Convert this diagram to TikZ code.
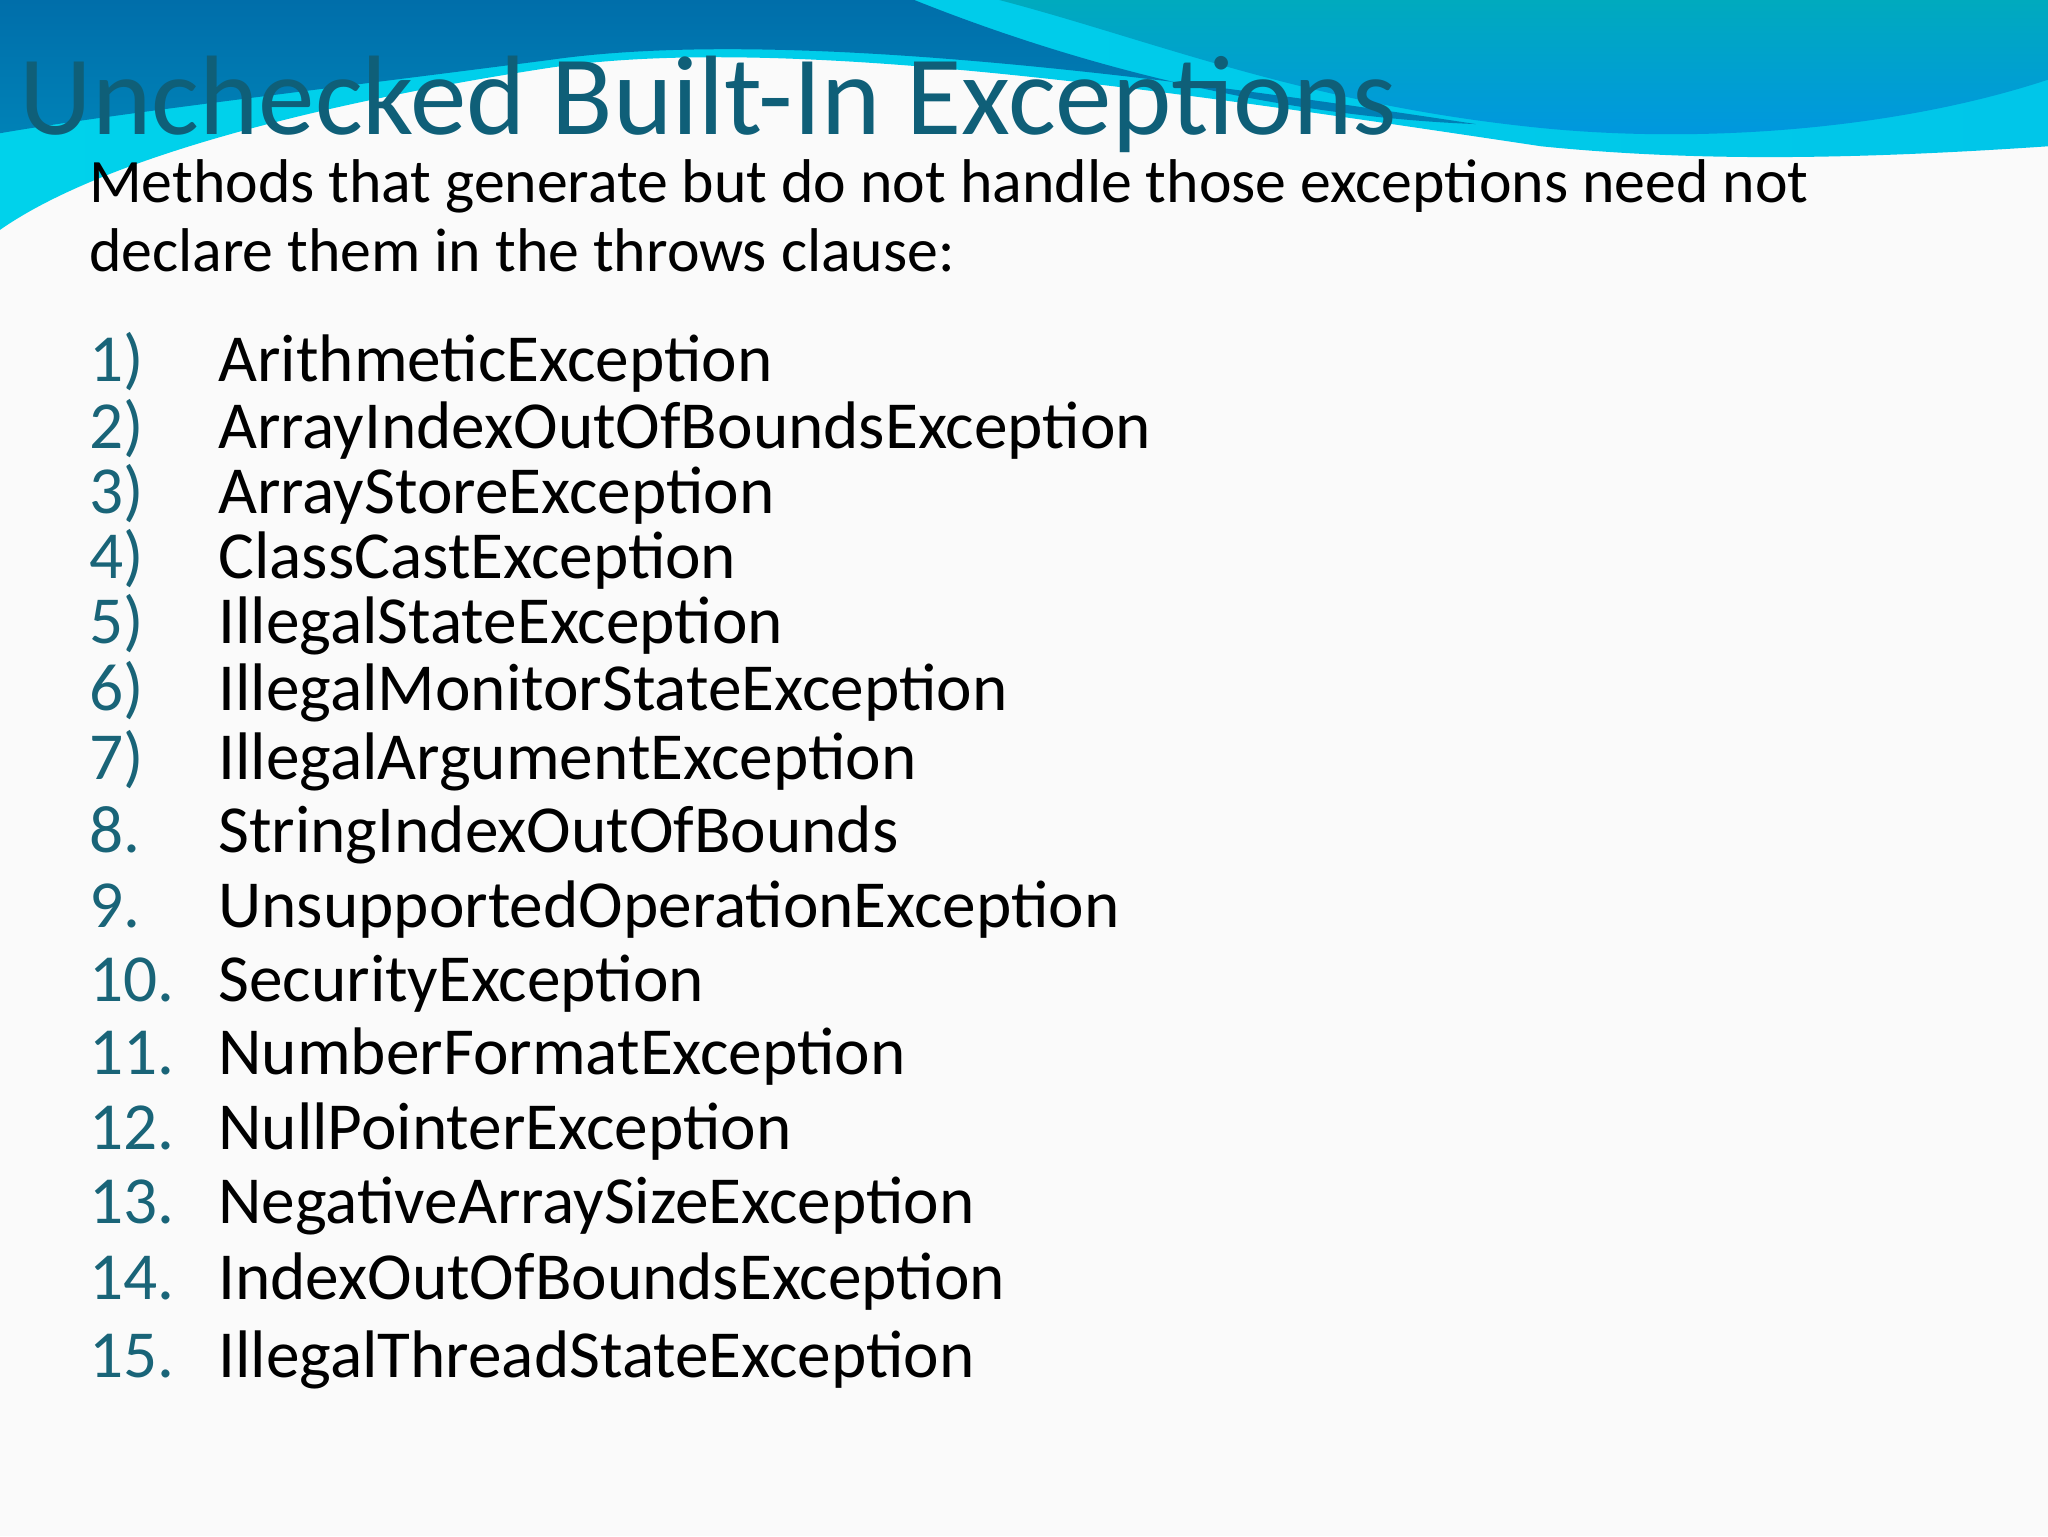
\documentclass[tikz,border=0pt]{standalone}
\usepackage{fontspec}
\setmainfont{Carlito}
\begin{document}
\begin{tikzpicture}[x=1pt,y=-1pt,
  num/.style={anchor=base west,inner sep=0,text=numc,font=\fontsize{51.5}{52}\selectfont},
  item/.style={anchor=base west,inner sep=0,text=black,font=\fontsize{51.5}{52}\selectfont},
  body/.style={anchor=base west,inner sep=0,text=black,font=\fontsize{47.3}{48}\selectfont}]
\definecolor{numc}{RGB}{25,100,120}
\definecolor{titlec}{RGB}{15,95,120}
\definecolor{darkb}{RGB}{0,110,170}
\definecolor{cyanb}{RGB}{0,210,235}
\definecolor{tealb}{RGB}{0,170,190}
\definecolor{blueb}{RGB}{0,150,225}
\useasboundingbox (0,0) rectangle (1568,1176);
\fill[white!96!gray] (0,0) rectangle (1568,1176);
% cyan base band
\shade[left color=cyanb,right color=cyanb!80!blueb] (0,0) -- (1568,0) -- (1568,112)
  .. controls (1420,122) and (1300,124) .. (1180,112)
  .. controls (900,70) and (600,25) .. (420,52)
  .. controls (250,78) and (80,120) .. (0,176) -- cycle;
% dark blue region
\shade[top color=darkb,bottom color=darkb!80!cyanb] (0,0) -- (700,0)
  .. controls (850,60) and (1000,90) .. (1130,95)
  .. controls (900,60) and (600,20) .. (420,46)
  .. controls (250,68) and (80,88) .. (0,102) -- cycle;
% teal region right
\shade[top color=tealb,bottom color=blueb] (765,0) -- (1568,0) -- (1568,61)
  .. controls (1450,100) and (1300,110) .. (1180,98)
  .. controls (1000,80) and (880,30) .. (765,0) -- cycle;
\node[anchor=base west,inner sep=0,text=titlec,font=\fontsize{86.5}{87}\selectfont] (title) at (15,103) {Unchecked Built-In Exceptions};
\node[body] (b1) at (68,155) {Methods that generate but do not handle those exceptions need not};
\node[body] (b2) at (68,208) {declare them in the throws clause:};
\foreach \n/\t/\y [count=\i] in {
  1)/ArithmeticException/292,
  2)/ArrayIndexOutOfBoundsException/343,
  3)/ArrayStoreException/393,
  4)/ClassCastException/443,
  5)/IllegalStateException/493,
  6)/IllegalMonitorStateException/544,
  7)/IllegalArgumentException/597,
  8./StringIndexOutOfBounds/653,
  9./UnsupportedOperationException/710,
  10./SecurityException/767,
  11./NumberFormatException/823,
  12./NullPointerException/880,
  13./NegativeArraySizeException/937,
  14./IndexOutOfBoundsException/995,
  15./IllegalThreadStateException/1055}{
  \node[num] (n\i) at (68,\y) {\n};
  \node[item] (t\i) at (167,\y) {\t};
}
\end{tikzpicture}
\end{document}
